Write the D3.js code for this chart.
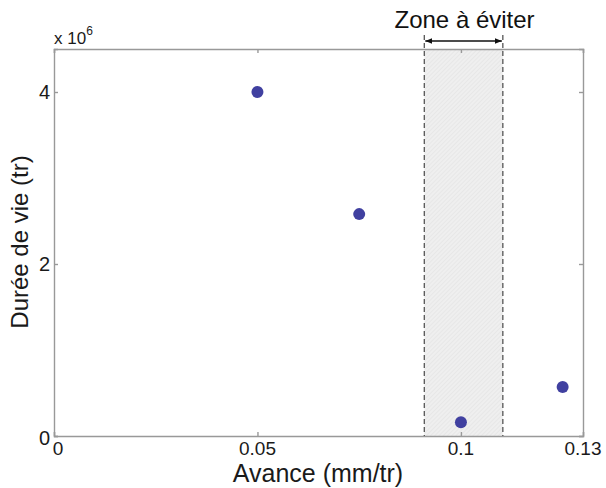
<!DOCTYPE html>
<html><head><meta charset="utf-8">
<script src="https://cdn.jsdelivr.net/npm/d3@7"></script>
<style>body{margin:0;background:#fff}svg{display:block;font-family:"Liberation Sans",Arial,sans-serif}</style>
</head><body><div id="c"></div>
<script>
const avance = [0.05, 0.075, 0.1, 0.125];
const duree = [4.0e6, 2.58e6, 0.16e6, 0.57e6];
const xTicks = [0, 0.05, 0.1, 0.13];
const xTickLabels = ["0", "0.05", "0.1", "0.13"];
const yTicks = [0, 2e6, 4e6];
const yTickLabels = ["0", "2", "4"];
const zone = [0.091, 0.1103];
const zoneLabel = "Zone à éviter";
const xTitle = "Avance (mm/tr)";
const yTitle = "Durée de vie (tr)";

const W = 606, H = 488;
const m = {l:54, r:23, t:49, b:52};
const svg = d3.select("#c").append("svg").attr("width", W).attr("height", H);
const x = d3.scaleLinear().domain([0, 0.13]).range([m.l, W - m.r]);
const y = d3.scaleLinear().domain([0, 4.5e6]).range([H - m.b, m.t]);
const axisCol = "#999999", txt = "#1a1a1a";

const defs = svg.append("defs");
const pat = defs.append("pattern").attr("id","hatch").attr("patternUnits","userSpaceOnUse")
  .attr("width",3).attr("height",3).attr("patternTransform","rotate(45)");
pat.append("rect").attr("width",3).attr("height",3).attr("fill","#efefef");
pat.append("line").attr("x1",0).attr("y1",0).attr("x2",0).attr("y2",3).attr("stroke","#e0e0e0").attr("stroke-width",1);

// zone
svg.append("rect").attr("x", x(zone[0])).attr("y", y.range()[1]).attr("width", x(zone[1]) - x(zone[0]))
  .attr("height", y.range()[0] - y.range()[1]).attr("fill", "url(#hatch)");

// axes box with inward ticks
const xb = d3.axisBottom(x).tickValues(xTicks).tickSize(-4).tickFormat("");
const xt = d3.axisTop(x).tickValues(xTicks).tickSize(-4).tickFormat("");
const yl = d3.axisLeft(y).tickValues(yTicks).tickSize(-4).tickFormat("");
const yr = d3.axisRight(y).tickValues(yTicks).tickSize(-4).tickFormat("");
function styleAx(g){ g.selectAll("path,line").attr("stroke", axisCol).attr("stroke-width", 1.4); }
svg.append("g").attr("transform",`translate(0,${y(0)})`).call(xb).call(styleAx);
svg.append("g").attr("transform",`translate(0,${y.range()[1]})`).call(xt).call(styleAx);
svg.append("g").attr("transform",`translate(${x(0)},0)`).call(yl).call(styleAx);
svg.append("g").attr("transform",`translate(${x.range()[1]},0)`).call(yr).call(styleAx);

// tick labels
svg.append("g").selectAll("text").data(xTicks).join("text")
  .attr("x", d => x(d) + (d === 0 ? 4 : 0)).attr("y", y(0) + 19).attr("text-anchor","middle")
  .attr("font-size", 19).attr("fill", txt).text((d,i) => xTickLabels[i]);
svg.append("g").selectAll("text").data(yTicks).join("text")
  .attr("x", x(0) - 4).attr("y", d => y(d) + 7 + (d === 0 ? 2 : 0)).attr("text-anchor","end")
  .attr("font-size", 20).attr("fill", txt).text((d,i) => yTickLabels[i]);

// exponent
const ex = svg.append("text").attr("x", x(0)).attr("y", 44).attr("font-size", 17).attr("fill", txt);
ex.append("tspan").text("x 10");
ex.append("tspan").attr("dy", -9).attr("font-size", 12).text("6");

// titles
svg.append("text").attr("x", 318).attr("y", 482).attr("text-anchor","middle")
  .attr("font-size", 25).attr("fill", txt).text(xTitle);
svg.append("text").attr("transform", `translate(28,242) rotate(-90)`)
  .attr("text-anchor","middle").attr("font-size", 24).attr("fill", txt).text(yTitle);

// dashed zone lines
svg.append("g").selectAll("line").data(zone).join("line")
  .attr("x1", d => x(d)).attr("x2", d => x(d)).attr("y1", 35).attr("y2", y(0))
  .attr("stroke", "#555").attr("stroke-width", 1.3).attr("stroke-dasharray", "5,3");

// arrow
defs.append("marker").attr("id","ah").attr("viewBox","0 0 10 10").attr("refX",10).attr("refY",5)
  .attr("markerWidth",7).attr("markerHeight",7).attr("orient","auto-start-reverse").attr("markerUnits","userSpaceOnUse")
  .append("path").attr("d","M0,1 L10,5 L0,9 z").attr("fill","#111");
svg.append("line").attr("x1", x(zone[0]) + 1).attr("x2", x(zone[1]) - 1).attr("y1", 41).attr("y2", 41)
  .attr("stroke","#111").attr("stroke-width",1.3).attr("marker-start","url(#ah)").attr("marker-end","url(#ah)");
svg.append("text").attr("x", (x(zone[0]) + x(zone[1]))/2 + 1).attr("y", 28).attr("text-anchor","middle")
  .attr("font-size", 24).attr("fill", "#111").text(zoneLabel);

// points
svg.append("g").selectAll("circle").data(avance).join("circle")
  .attr("cx", d => x(d)).attr("cy", (d,i) => y(duree[i])).attr("r", 6).attr("fill", "#4040a0");
</script></body></html>
